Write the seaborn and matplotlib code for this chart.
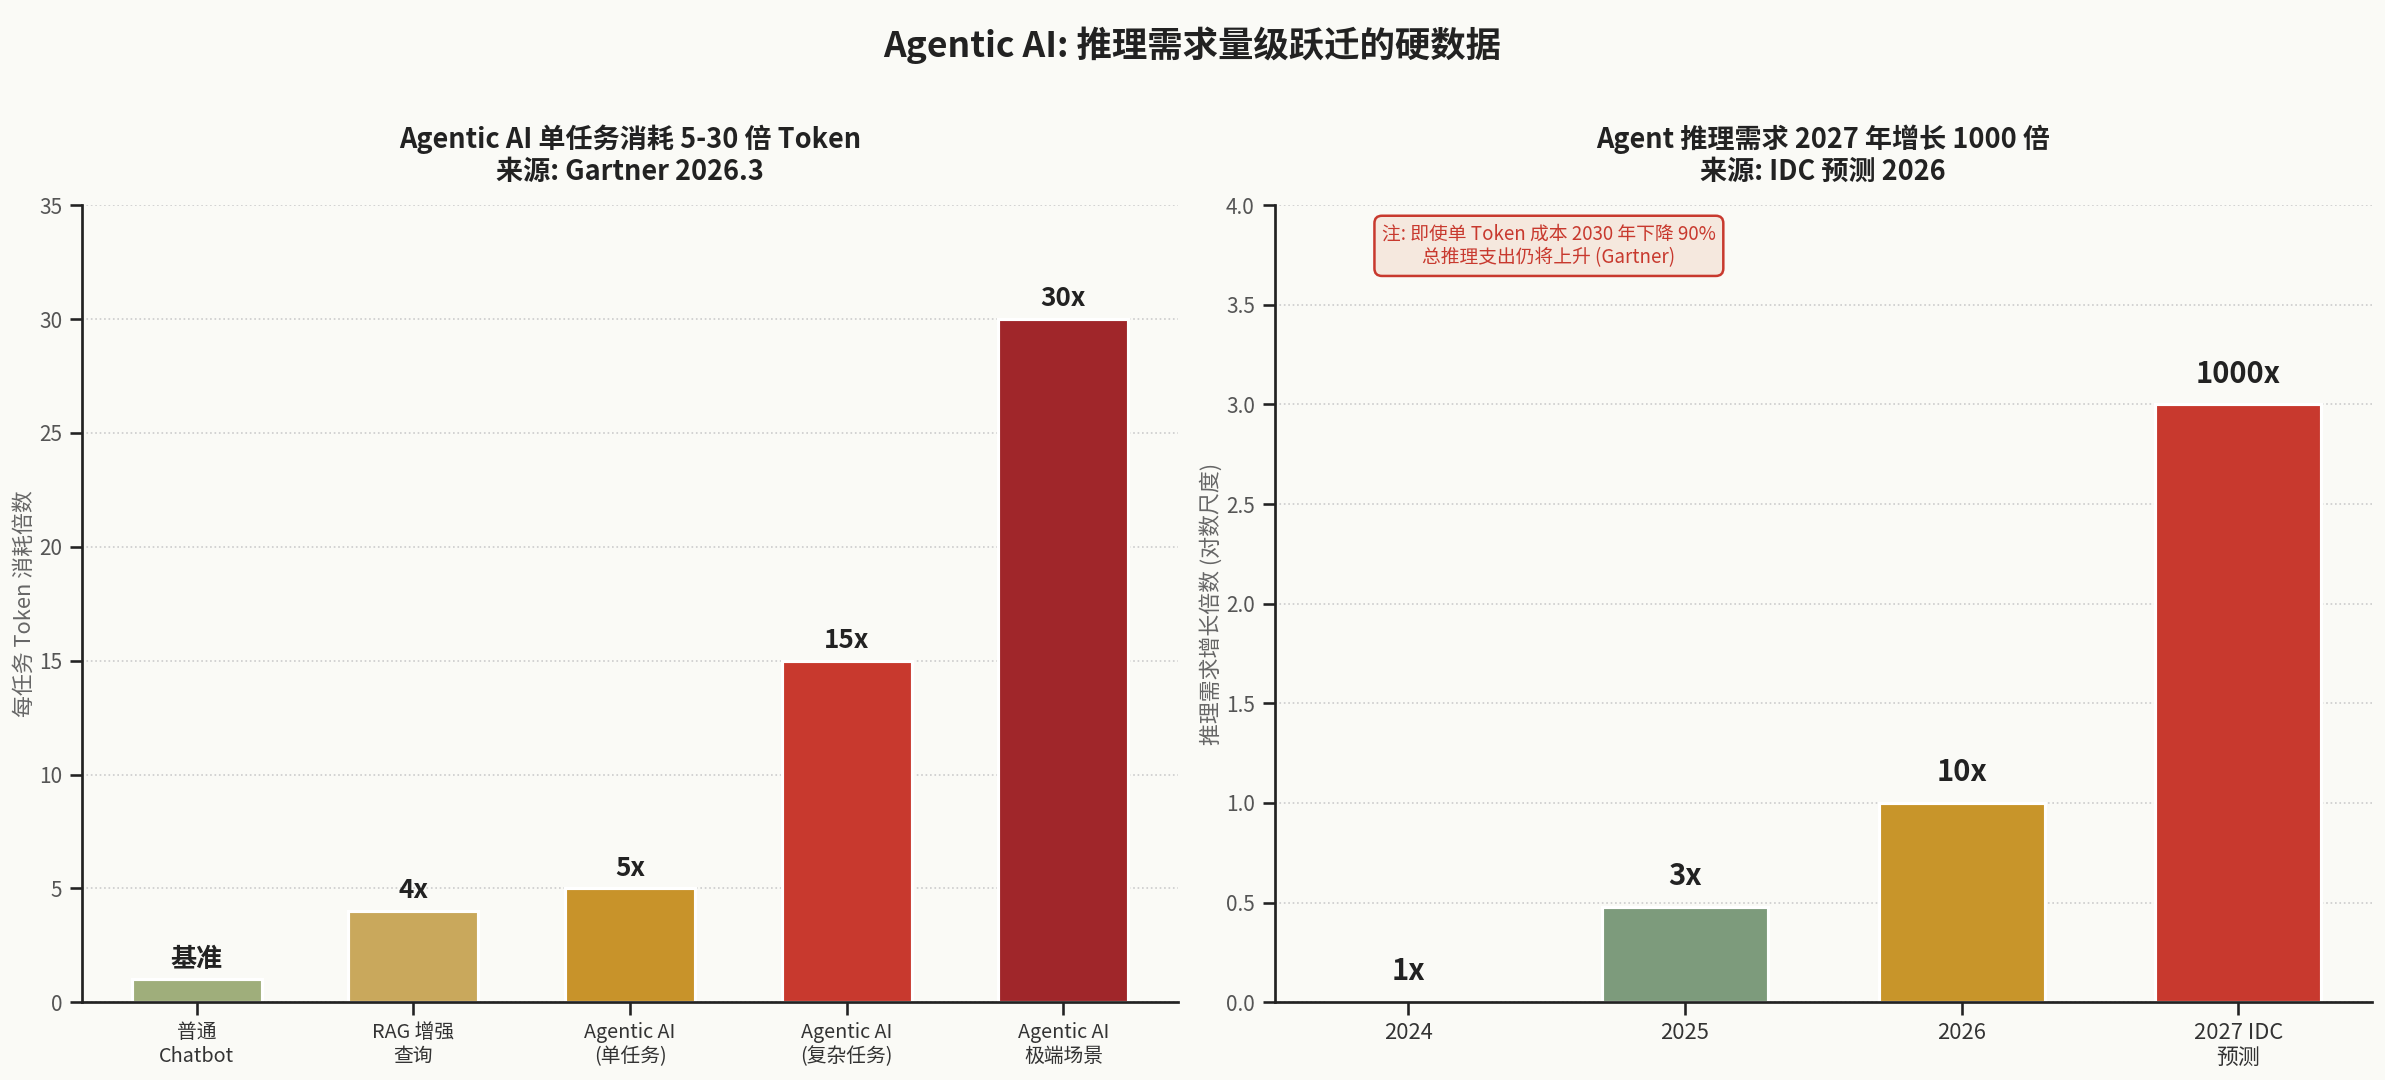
import numpy as np
import pandas as pd
import matplotlib
matplotlib.use("Agg")
import matplotlib.pyplot as plt
import seaborn as sns

# ---- data ----
left_categories = ["普通\nChatbot", "RAG 增强\n查询", "Agentic AI\n(单任务)", "Agentic AI\n(复杂任务)", "Agentic AI\n极端场景"]
left_values = [1, 4, 5, 15, 30]
left_labels = ["基准", "4x", "5x", "15x", "30x"]
left_colors = ["#9FAE7B", "#C9A85C", "#C8932A", "#C8392E", "#A0262A"]

right_categories = ["2024", "2025", "2026", "2027 IDC\n预测"]
right_multipliers = [1, 3, 10, 1000]
right_labels = ["1x", "3x", "10x", "1000x"]
right_colors = ["#9FAE7B", "#7D9B7C", "#C8952A", "#C8392E"]

BG = "#FAFAF6"

sns.set_theme(style="ticks")
plt.rcParams["font.family"] = ["Noto Sans CJK SC", "DejaVu Sans"]
plt.rcParams["axes.unicode_minus"] = False

fig = plt.figure(figsize=(15.9, 7.2), dpi=150, facecolor=BG)
ax1 = fig.add_axes([0.0344, 0.072, 0.4596, 0.738])
ax2 = fig.add_axes([0.5344, 0.072, 0.4601, 0.738])

def style_ax(ax, xsize):
    ax.set_facecolor(BG)
    for s in ["top", "right"]:
        ax.spines[s].set_visible(False)
    for s in ["left", "bottom"]:
        ax.spines[s].set_color("#222222")
        ax.spines[s].set_linewidth(1.3)
    ax.yaxis.grid(True, linestyle=":", color="#CCCCCC", linewidth=0.8)
    ax.set_axisbelow(True)
    ax.tick_params(axis="y", labelsize=10, labelcolor="#555555", color="#222222")
    ax.tick_params(axis="x", labelsize=xsize, labelcolor="#333333", color="#222222")

# ---- left ----
df1 = pd.DataFrame({"cat": left_categories, "val": left_values})
sns.barplot(data=df1, x="cat", y="val", hue="cat", palette=left_colors, legend=False,
            width=0.6, edgecolor="white", linewidth=1.5, ax=ax1, saturation=1)
style_ax(ax1, 9.5)
ax1.set_xlim(-0.53, 4.53)
ax1.set_ylim(0, 35)
ax1.set_xlabel("")
ax1.set_ylabel("每任务 Token 消耗倍数", fontsize=10.5, color="#666666", labelpad=1.5)
for i, (v, lab) in enumerate(zip(left_values, left_labels)):
    ax1.text(i, v + 0.3, lab, ha="center", va="bottom", fontsize=12.5, fontweight="bold", color="#222222")
ax1.set_title("Agentic AI 单任务消耗 5-30 倍 Token\n来源: Gartner 2026.3", fontsize=13,
              fontweight="bold", color="#222222", pad=12)

# ---- right ----
log_vals = np.log10(right_multipliers)
df2 = pd.DataFrame({"cat": right_categories, "val": log_vals})
sns.barplot(data=df2, x="cat", y="val", hue="cat", palette=right_colors, legend=False,
            width=0.6, edgecolor="white", linewidth=1.5, ax=ax2, saturation=1)
style_ax(ax2, 10.5)
ax2.set_xlim(-0.483, 3.483)
ax2.set_ylim(0, 4.0)
ax2.set_yticks(np.arange(0, 4.01, 0.5))
ax2.set_xlabel("")
ax2.set_ylabel("推理需求增长倍数 (对数尺度)", fontsize=10.5, color="#666666", labelpad=1.5)
for i, (v, lab) in enumerate(zip(log_vals, right_labels)):
    ax2.text(i, v + 0.08, lab, ha="center", va="bottom", fontsize=14, fontweight="bold", color="#222222")
ax2.set_title("Agent 推理需求 2027 年增长 1000 倍\n来源: IDC 预测 2026", fontsize=13,
              fontweight="bold", color="#222222", pad=12)
ax2.text(0.25, 0.949, "注: 即使单 Token 成本 2030 年下降 90%\n总推理支出仍将上升 (Gartner)",
         transform=ax2.transAxes, ha="center", va="center", fontsize=9, color="#C8392E",
         linespacing=1.2,
         bbox=dict(boxstyle="round,pad=0.4", facecolor="#F5E8DE", edgecolor="#C8392E", linewidth=1.2))

fig.suptitle("Agentic AI: 推理需求量级跃迁的硬数据", fontsize=17, fontweight="bold", color="#222222", y=0.975)

fig.savefig("out.png", dpi=150, facecolor=BG)
